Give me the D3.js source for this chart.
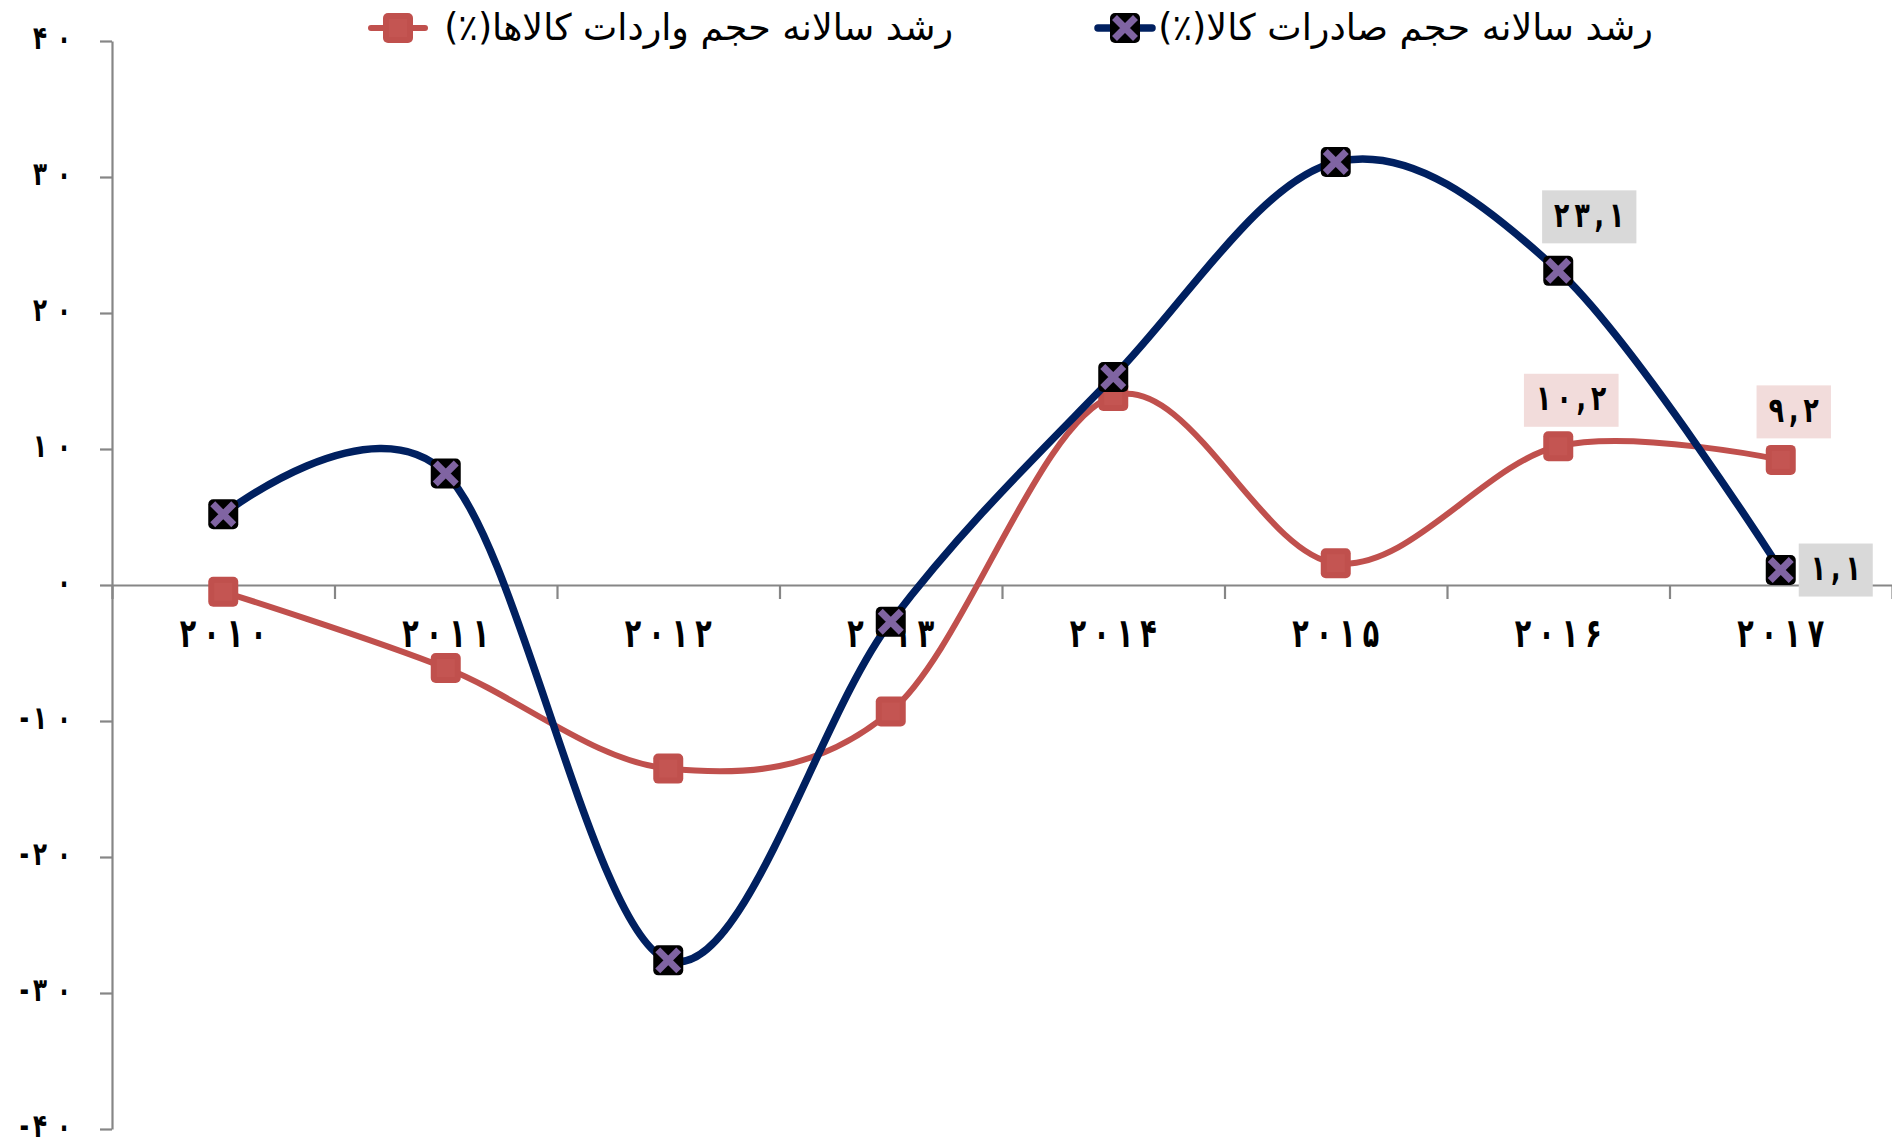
<!DOCTYPE html>
<html><head><meta charset="utf-8">
<script src="https://cdn.jsdelivr.net/npm/d3@7"></script>
<style>html,body{margin:0;padding:0;background:#fff;} svg{display:block}</style>
</head><body>
<svg id="chart" width="1892" height="1139"></svg>
<script>
// ---------- data ----------
const years = [2010, 2011, 2012, 2013, 2014, 2015, 2016, 2017];
const exportsGrowth = [5.2, 8.2, -27.6, -2.7, 15.3, 31.1, 23.1, 1.1];
const importsGrowth = [-0.5, -6.1, -13.5, -9.3, 13.9, 1.6, 10.2, 9.2];
const yTicks = [40, 30, 20, 10, 0, -10, -20, -30, -40];
const exportsName = "رشد سالانه حجم صادرات کالا(٪)";
const importsName = "رشد سالانه حجم واردات کالاها(٪)";
const labeledYears = [2016, 2017];

// ---------- helpers ----------
const faDigits = "۰۱۲۳۴۵۶۷۸۹";
const fa = s => String(s).replace(/[0-9]/g, d => faDigits[+d]).replace(".", ",");
const FONT = "'DejaVu Sans', sans-serif";

// writes a string into a text element as per-character tspans separated by a gap
// (letter-spacing is ignored by the browser for Arabic-script characters)
function spaced(textSel, str, gap, minusGap) {
  textSel.text(null);
  const chars = Array.from(str);
  chars.forEach((ch, i) => {
    let dx = 0;
    if (i > 0) dx = chars[i - 1] === "-" ? (minusGap ?? gap) : gap;
    textSel.append("tspan").attr("dx", dx).text(ch);
  });
}

const svg = d3.select("#chart");
const mLeft = 112, mRight = 1892, mTop = 41, mBottom = 1129;

const x = d3.scaleBand().domain(years).range([mLeft, mRight]);
const xc = d => x(d) + x.bandwidth() / 2;
const xLin = d3.scaleLinear().domain([0, years.length]).range([mLeft, mRight]);
const y = d3.scaleLinear().domain([-40, 40]).range([mBottom, mTop]);

const AXIS = "#868686";

// y axis
const yAxis = svg.append("g").attr("transform", `translate(${mLeft},0)`)
  .call(d3.axisLeft(y).tickValues(yTicks).tickSizeInner(12).tickSizeOuter(0)
    .tickFormat(d => fa(d)));
yAxis.select(".domain").attr("stroke", AXIS).attr("stroke-width", 2.2);
yAxis.selectAll(".tick line").attr("stroke", AXIS).attr("stroke-width", 2.2);
yAxis.selectAll(".tick text").attr("font-family", FONT).attr("font-weight", "bold")
  .attr("font-size", 23).attr("fill", "#000").attr("text-anchor", "end")
  .attr("direction", "ltr")
  .attr("x", -41).attr("y", 0).attr("dy", "0.22em")
  .attr("transform", "scale(1,1.4)")
  .each(function(d) { spaced(d3.select(this), fa(d), 10, 4); });

// x axis (boundary ticks)
const xAxis = svg.append("g").attr("transform", `translate(0,${y(0)})`)
  .call(d3.axisBottom(xLin).tickValues(d3.range(0, years.length + 1)).tickSizeInner(14).tickSizeOuter(0).tickFormat(""));
xAxis.select(".domain").attr("stroke", AXIS).attr("stroke-width", 2.2);
xAxis.selectAll(".tick line").attr("stroke", AXIS).attr("stroke-width", 2.2);

// x labels
svg.append("g").selectAll("g").data(years).join("g")
  .attr("transform", d => `translate(${xc(d)},${y(0) + 62})`)
  .append("text")
  .attr("text-anchor", "middle").attr("direction", "ltr")
  .attr("font-family", FONT).attr("font-weight", "bold").attr("font-size", 27)
  .attr("fill", "#000")
  .attr("transform", "scale(1,1.5)")
  .each(function(d) { spaced(d3.select(this), fa(d), 7); });

// ---------- series ----------
const line = d3.line().x((d, i) => xc(years[i])).y(d => y(d)).curve(d3.curveCardinal.tension(0));

const RED = "#c0504d", NAVY = "#002060", PURPLE = "#8064a2";
const MS = 30;

function redMarker(g) {
  g.append("rect").attr("x", -MS/2).attr("y", -MS/2).attr("width", MS).attr("height", MS)
    .attr("rx", 5).attr("fill", RED);
  g.append("rect").attr("x", -MS/2 + 6).attr("y", -MS/2 + 6).attr("width", MS - 12).attr("height", MS - 12)
    .attr("fill", "#c45552");
}
function navyMarker(g) {
  g.append("rect").attr("x", -MS/2).attr("y", -MS/2).attr("width", MS).attr("height", MS)
    .attr("rx", 5).attr("fill", "#000");
  const a = 10.5;
  g.append("path").attr("d", `M${-a},${-a}L${a},${a}M${-a},${a}L${a},${-a}`)
    .attr("stroke", PURPLE).attr("stroke-width", 7).attr("fill", "none");
}

// imports (red) first
svg.append("path").datum(importsGrowth).attr("d", line)
  .attr("fill", "none").attr("stroke", RED).attr("stroke-width", 6);
svg.append("g").selectAll("g").data(importsGrowth).join("g")
  .attr("transform", (d, i) => `translate(${xc(years[i])},${y(d)})`)
  .each(function() { redMarker(d3.select(this)); });

// exports (navy)
svg.append("path").datum(exportsGrowth).attr("d", line)
  .attr("fill", "none").attr("stroke", NAVY).attr("stroke-width", 7.5);
svg.append("g").selectAll("g").data(exportsGrowth).join("g")
  .attr("transform", (d, i) => `translate(${xc(years[i])},${y(d)})`)
  .each(function() { navyMarker(d3.select(this)); });

// ---------- data labels ----------
const labelPlacement = {
  exports: { 2016: [31, -54], 2017: [55, 0] },
  imports: { 2016: [13, -46], 2017: [13, -48] }
};
function drawLabel(series, year, value, bg) {
  const [dx, dy] = labelPlacement[series][year];
  const cx = xc(year) + dx, cy = y(value) + dy;
  const g = svg.append("g").attr("transform", `translate(${cx},${cy})`);
  const rect = g.append("rect").attr("fill", bg);
  const t = g.append("text").attr("text-anchor", "middle").attr("direction", "ltr")
    .attr("font-family", FONT).attr("font-weight", "bold").attr("font-size", 25)
    .attr("y", 7).attr("fill", "#000")
    .attr("transform", "scale(1,1.4)");
  spaced(t, fa(value), 5);
  const w = t.node().getBBox().width + 24;
  rect.attr("x", -w/2).attr("y", -26.5).attr("width", w).attr("height", 53);
}
labeledYears.forEach(yr => {
  const i = years.indexOf(yr);
  drawLabel("imports", yr, importsGrowth[i], "#f2dcdb");
  drawLabel("exports", yr, exportsGrowth[i], "#d9d9d9");
});

// ---------- legend ----------
function legendItem(name, textRight, markerX, markerFn, color, lw, targetW) {
  const ly = 28;
  svg.append("line").attr("x1", markerX - 27).attr("x2", markerX + 27).attr("y1", ly).attr("y2", ly)
    .attr("stroke", color).attr("stroke-width", lw).attr("stroke-linecap", "round");
  markerFn(svg.append("g").attr("transform", `translate(${markerX},${ly})`));
  const t = svg.append("text").attr("x", textRight).attr("y", ly + 12)
    .attr("direction", "rtl").attr("text-anchor", "start")
    .attr("font-family", FONT).attr("font-size", 30).attr("fill", "#000").text(name);
  const len = t.node().getComputedTextLength();
  t.attr("font-size", Math.min(40, 30 * targetW / len));
}
legendItem(exportsName, 1653, 1125, navyMarker, NAVY, 7.5, 495);
legendItem(importsName, 953, 398, redMarker, RED, 6, 509);
</script>
</body></html>
